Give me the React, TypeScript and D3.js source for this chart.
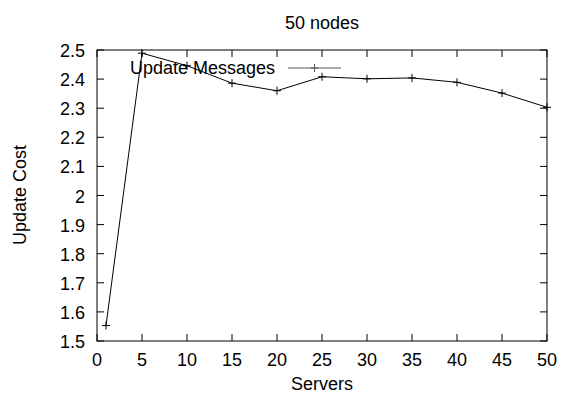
import React from 'react';
import * as d3 from 'd3';

// values
const servers = [1, 5, 10, 15, 20, 25, 30, 35, 40, 45, 50];
const updateCost = [1.553, 2.489, 2.446, 2.386, 2.36, 2.408, 2.401, 2.404, 2.389, 2.352, 2.303];
const xTicks = [0, 5, 10, 15, 20, 25, 30, 35, 40, 45, 50];
const yTicks = [1.5, 1.6, 1.7, 1.8, 1.9, 2, 2.1, 2.2, 2.3, 2.4, 2.5];
const seriesName = 'Update Messages';

const W = 566, H = 395;
const m = {left: 97, right: 19, top: 50, bottom: 54};
const font = 'Liberation Sans, Arial, sans-serif';

export default function App() {
  const x = d3.scaleLinear().domain([0, 50]).range([m.left, W - m.right]);
  const y = d3.scaleLinear().domain([1.5, 2.5]).range([H - m.bottom, m.top]);
  const line = d3.line<number>()
    .x((d, i) => x(servers[i]))
    .y(d => y(d));
  const tk = 7;
  const mk = 4;
  const x0 = x.range()[0], x1 = x.range()[1];
  const y0 = y.range()[0], y1 = y.range()[1];

  const legY = 68;
  const legX1 = 288, legX2 = 341;

  return (
    <svg width={W} height={H} style={{position: 'absolute', left: 0, top: 0}} fontFamily={font}>
      <rect width={W} height={H} fill="#fff" />
      <g stroke="#000" strokeWidth={1} fill="none">
        {xTicks.map(t => (
          <g key={'x' + t}>
            <line x1={x(t)} x2={x(t)} y1={y0} y2={y0 - tk} />
            <line x1={x(t)} x2={x(t)} y1={y1} y2={y1 + tk} />
          </g>
        ))}
        {yTicks.map(t => (
          <g key={'y' + t}>
            <line x1={x0} x2={x0 + tk} y1={y(t)} y2={y(t)} />
            <line x1={x1} x2={x1 - tk} y1={y(t)} y2={y(t)} />
          </g>
        ))}
        <rect x={x0} y={y1} width={x1 - x0} height={y0 - y1} />
      </g>
      <g fontSize={18} fill="#000">
        {xTicks.map(t => (
          <text key={'xl' + t} x={x(t)} y={366} textAnchor="middle">{t}</text>
        ))}
        {yTicks.map(t => (
          <text key={'yl' + t} x={85} y={y(t) + 7} textAnchor="end">{d3.format('~g')(t)}</text>
        ))}
        <text x={322} y={29} textAnchor="middle">50 nodes</text>
        <text x={322} y={390} textAnchor="middle">Servers</text>
        <text transform="translate(26,195) rotate(-90)" textAnchor="middle">Update Cost</text>
        <text x={275} y={legY + 6} textAnchor="end">{seriesName}</text>
      </g>
      <path d={line(updateCost) || ''} fill="none" stroke="#000" strokeWidth={1} />
      <g stroke="#000" strokeWidth={1}>
        {updateCost.map((v, i) => (
          <g key={'m' + i}>
            <line x1={x(servers[i]) - mk} x2={x(servers[i]) + mk} y1={y(v)} y2={y(v)} />
            <line x1={x(servers[i])} x2={x(servers[i])} y1={y(v) - mk} y2={y(v) + mk} />
          </g>
        ))}
      </g>
      <g stroke="#555" strokeWidth={1}>
        <line x1={legX1} x2={legX2} y1={legY} y2={legY} />
        <line x1={(legX1 + legX2) / 2 - mk} x2={(legX1 + legX2) / 2 + mk} y1={legY} y2={legY} />
        <line x1={(legX1 + legX2) / 2} x2={(legX1 + legX2) / 2} y1={legY - mk} y2={legY + mk} />
      </g>
    </svg>
  );
}
